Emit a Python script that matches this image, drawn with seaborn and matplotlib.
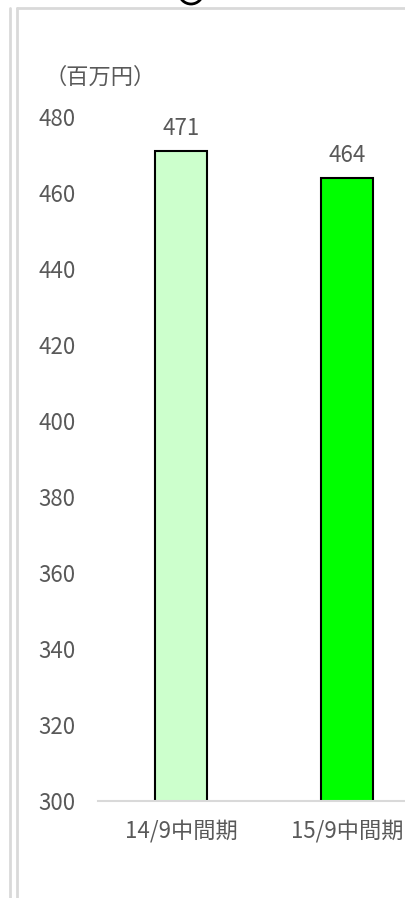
import matplotlib
matplotlib.use("Agg")
import matplotlib.pyplot as plt
from matplotlib.lines import Line2D
from matplotlib.patches import Circle
from matplotlib.transforms import IdentityTransform
import seaborn as sns

sns.set_theme(style="white")
plt.rcParams["font.family"] = ["Noto Sans CJK JP", "DejaVu Sans"]

categories = ["14/9中間期", "15/9中間期"]
values = [471, 464]
colors = ["#ccffcc", "#00ff00"]
yticks = [300, 320, 340, 360, 380, 400, 420, 440, 460, 480]

TXT = "#595959"
LINE = "#d9d9d9"
W, H = 405, 898
FS = 16

fig = plt.figure(figsize=(W / 100, H / 100), dpi=100, facecolor="white")
# axes extends past the right edge, as in the cropped original
ax = fig.add_axes([98 / W, (H - 801) / H, (430 - 98) / W, (801 - 117) / H])

sns.barplot(x=categories, y=values, hue=categories, palette=colors, saturation=1,
            width=0.313, edgecolor="black", linewidth=1.5, legend=False, ax=ax)

ax.set_ylim(300, 480)
ax.set_xlim(-0.5, 1.5)
ax.set_yticks(yticks)
ax.set_xlabel("")
ax.set_ylabel("")
for s in ["top", "right", "left"]:
    ax.spines[s].set_visible(False)
ax.spines["bottom"].set_color(LINE)
ax.spines["bottom"].set_linewidth(1.5)
ax.tick_params(axis="y", length=0, pad=16, labelsize=FS, labelcolor=TXT)
ax.tick_params(axis="x", length=0, pad=13, labelsize=FS, labelcolor=TXT)

for c in ax.containers:
    ax.bar_label(c, padding=8, fontsize=FS, color=TXT)

fig.text(100 / W, 1 - 77 / H, "（百万円）", ha="center", va="center",
         fontsize=FS, color=TXT)

# page frame pieces around the chart
def px_line(x0, y0, x1, y1, **kw):
    fig.add_artist(Line2D([x0 / W, x1 / W], [1 - y0 / H, 1 - y1 / H],
                          transform=fig.transFigure, **kw))

px_line(10, 8, 10, H, color=LINE, lw=2)
px_line(17, 8, 17, H, color=LINE, lw=2)
px_line(17, 7.5, W, 7.5, color=LINE, lw=2)
fig.add_artist(Circle((191, H + 8), 12, transform=IdentityTransform(),
                      fill=False, edgecolor="black", lw=2))

fig.savefig("out.png", dpi=100, facecolor="white")
